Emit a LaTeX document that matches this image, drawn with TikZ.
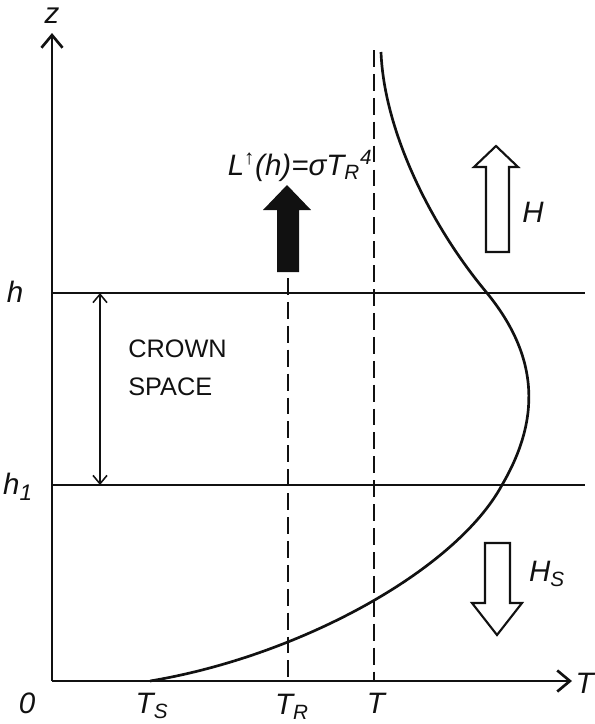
\documentclass[tikz,border=0pt]{standalone}
\usepackage{fontspec}
\setmainfont{Liberation Sans}
\usepackage{tikz}
\usetikzlibrary{arrows.meta}
\definecolor{ink}{HTML}{111111}

\tikzset{
  axisline/.style={ink, line width=1.9pt, -{Straight Barb[length=9pt, width=15pt, line width=1.9pt]}},
  levelline/.style={ink, line width=1.5pt},
  guideline/.style={ink, line width=1.5pt, dash pattern=on 12pt off 5pt},
  flux/.style={ink, line width=1.5pt, line join=miter},
  varlabel/.style={text=ink, font=\fontsize{21}{24}\selectfont\itshape, inner sep=1pt},
  zonelabel/.style={text=ink, font=\fontsize{18}{22}\selectfont, align=left, inner sep=0pt}
}

\begin{document}
\begin{tikzpicture}[x=0.025cm, y=-0.025cm]
    \useasboundingbox (0, 0) rectangle (594, 724);

    % axes
    \coordinate (origin) at (52, 681);
    \coordinate (ztop)   at (52, 33);
    \coordinate (tend)   at (572, 681);
    \draw[axisline] (origin) -- (ztop);
    \draw[axisline] (origin) -- (tend);
    \node[varlabel] (zlab) at (52, 16) {z};
    \node[varlabel, anchor=west] (tlab) at (574, 683) {T};
    \node[varlabel] (zero) at (27, 703) {0};

    % crown levels
    \coordinate (hleft)   at (52, 293);
    \coordinate (hright)  at (585, 293);
    \coordinate (h1left)  at (52, 485);
    \coordinate (h1right) at (585, 485);
    \draw[levelline] (hleft) -- (hright);
    \draw[levelline] (h1left) -- (h1right);
    \node[varlabel] (hlab)  at (15, 292) {h};
    \node[varlabel] (h1lab) at (18, 487) {h\textsubscript{\fontsize{16}{18}\selectfont 1}};

    \coordinate (ctop) at (100, 293);
    \coordinate (cbot) at (100, 485);
    \draw[ink, line width=1.1pt, {Straight Barb[length=6pt, width=10pt]}-{Straight Barb[length=6pt, width=10pt]}] (ctop) -- (cbot);
    \node[zonelabel, anchor=west] (crown) at (128, 368) {CROWN\\[5pt]SPACE};

    % reference temperatures
    \coordinate (trtop) at (288, 278);
    \coordinate (trbot) at (288, 681);
    \coordinate (ttop)  at (374, 50);
    \coordinate (tbot)  at (374, 681);
    \draw[guideline] (trtop) -- (trbot);
    \draw[guideline] (ttop) -- (tbot);
    \node[varlabel] (tslab) at (152, 706) {T\textsubscript{S}};
    \node[varlabel] (trlab) at (292, 707) {T\textsubscript{R}};
    \node[varlabel] (ttlab) at (376, 703) {T};

    % temperature profile
    \coordinate (ts) at (150, 681);
    \coordinate (p1) at (502, 485);
    \coordinate (p2) at (487, 293);
    \coordinate (p3) at (381, 52);
    \draw[ink, line width=1.9pt] (ts)
      .. controls (300,656) and (456,570) .. (p1)
      .. controls (540,420) and (540,358) .. (p2)
      .. controls (430,225) and (384,130) .. (p3);

    % radiative flux
    \fill[ink] (277,272) -- (277,210) -- (263,210) -- (287,185)
      -- (311,210) -- (299,210) -- (299,272) -- cycle;
    \node[varlabel, anchor=south] (llab) at (300, 183)
      {L\textsuperscript{↑}(h)=σT\textsubscript{R}\textsuperscript{4}};

    % sensible heat fluxes
    \draw[flux] (486,252) -- (486,167) -- (474,167) -- (496,146)
      -- (518,167) -- (509,167) -- (509,252) -- cycle;
    \node[varlabel] (hflab) at (533, 212) {H};
    \draw[flux] (485,543) -- (485,603) -- (472,603) -- (497,635)
      -- (522,603) -- (510,603) -- (510,543) -- cycle;
    \node[varlabel] (hslab) at (547, 574) {H\textsubscript{S}};
  \end{tikzpicture}
\end{document}
